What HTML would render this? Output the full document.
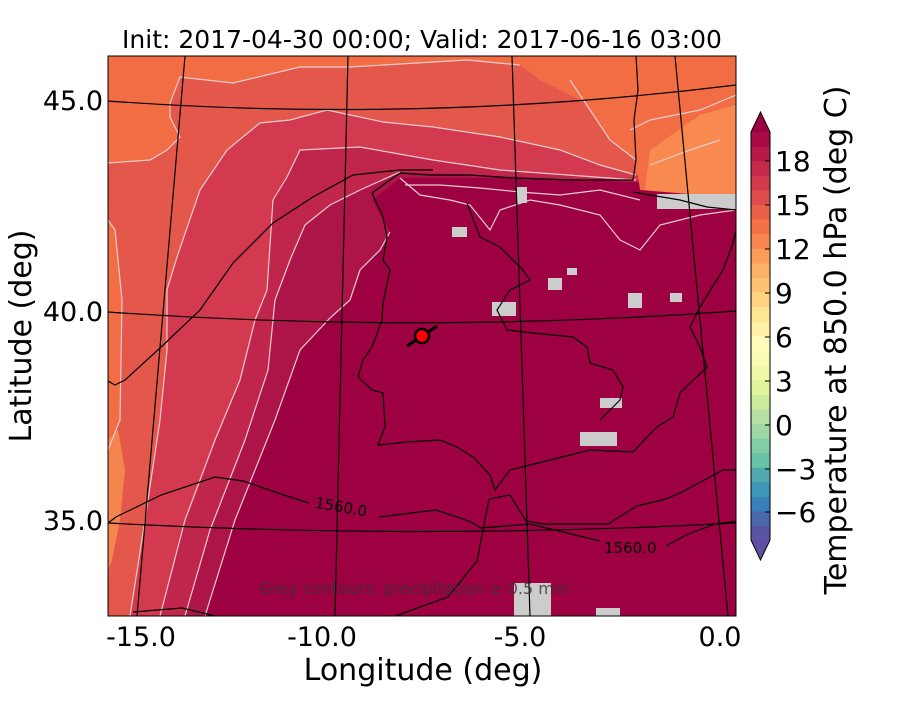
<!DOCTYPE html>
<html><head><meta charset="utf-8"><style>
body{margin:0;background:#fff;}
svg text{font-family:"DejaVu Sans","Liberation Sans",sans-serif;}
</style></head><body>
<svg width="900" height="700" viewBox="0 0 900 700" xmlns="http://www.w3.org/2000/svg">
<defs><clipPath id="c"><rect x="108" y="56" width="628" height="560"/></clipPath></defs>
<g clip-path="url(#c)">
<rect x="108" y="56" width="628" height="560" fill="#f26d43"/>
<polygon points="108,163 150,160 167,150 180,137 170,117 170,103 180,77 233,83 300,67 350,67 467,60 520,65 540,80 600,110 630,130 636,170 640,190 736,200 736,616 108,616 108,450 120,420 122,300 115,230 108,220" fill="#e4584b"/>
<polygon points="108,440 118,430 125,470 120,520 112,560 108,570" fill="#f6844f"/>
<polygon points="130,616 145,520 160,420 167,350 167,290 177,257 200,190 227,150 260,123 290,120 327,110 383,122 433,127 500,137 560,150 600,165 636,175 736,200 736,616" fill="#d3394f"/>
<polygon points="160,616 185,520 215,440 240,380 255,320 267,290 273,200 287,177 300,150 360,147 433,160 500,170 636,180 736,200 736,616" fill="#c0254b"/>
<polygon points="185,616 210,530 245,440 268,370 275,300 290,260 305,225 330,205 360,190 400,172 500,176 636,182 736,200 736,616" fill="#ad1549"/>
<polygon points="205,616 235,520 275,420 300,350 330,318 350,300 360,270 380,250 390,232 372,200 385,190 400,178 500,178 636,182 736,200 736,616" fill="#9e0142"/>
<polygon points="560,56 736,56 736,198 640,190 636,160 610,140 590,110 570,80" fill="#f26d43"/>
<polygon points="645,190 650,150 700,115 736,105 736,198" fill="#f8894f"/>
<g fill="none" stroke="#eccbd1" stroke-width="1.2">
<polyline points="108,163 150,160 167,150 180,137 170,117 170,103 180,77 233,83 300,67 350,67 467,60 520,65"/>
<polyline points="570,80 590,110 610,140 636,160"/>
<polyline points="108,220 115,230 122,300 120,420 108,450"/>
<polyline points="130,616 145,520 160,420 167,350 167,290 177,257 200,190 227,150 260,123 290,120 327,110 383,122 433,127 500,137 560,150 600,165 636,175"/>
<polyline points="160,616 185,520 215,440 240,380 255,320 267,290 273,200 287,177 300,150 360,147 433,160 500,170 636,180"/>
<polyline points="185,616 210,530 245,440 268,370 275,300 290,260 305,225 330,205 360,190 400,172"/>
<polyline points="205,616 235,520 275,420 300,350 330,318 350,300 360,270 380,250 390,232"/>
<polyline points="400,178 420,195 450,200 470,205 490,230 500,210 530,200 560,205 600,215 620,240 640,250 660,225 700,215 736,210"/>
<polyline points="405,185 440,185 480,188 520,192 560,195 600,190 640,200"/>
<polyline points="630,130 650,120 700,110 736,95"/>
<polyline points="650,165 690,150 720,140"/>
</g>
<g fill="#cccccc">
<rect x="657" y="194" width="80" height="15"/><rect x="517" y="187" width="10" height="16"/>
<rect x="452" y="227" width="15" height="10"/><rect x="492" y="302" width="24" height="14"/>
<rect x="548" y="278" width="14" height="12"/><rect x="567" y="268" width="10" height="7"/>
<rect x="628" y="293" width="14" height="15"/><rect x="670" y="293" width="12" height="9"/>
<rect x="600" y="398" width="22" height="10"/><rect x="580" y="432" width="37" height="14"/>
<rect x="514" y="583" width="37" height="36"/><rect x="596" y="608" width="24" height="10"/>
</g>
</g>
<g clip-path="url(#c)" fill="none" stroke="#000" stroke-width="1.2">
<path d="M108,101 Q422,124 736,85"/>
<path d="M108,312 Q422,334 736,311"/>
<path d="M108,523 Q422,540 736,523"/>
<path d="M185,56 L137,616"/><path d="M348,56 L335,616"/><path d="M512,56 L530,616"/><path d="M675,56 L728,616"/>
<path d="M108,381 L115,385 125,380 160,348 200,310 233,263 273,223 313,197 353,175 400,170 433,170"/>
<path d="M108,523 L116,517 161,495 215,477 243,481 284,495 309,503"/>
<path d="M379,517 L436,510 469,521 481,528 530,524 600,541"/>
<path d="M666,546 L686,535 715,524 739,521"/>
<path d="M372,193 L383,185 400,173 430,175 470,175 513,178 573,180 633,180 636,160 634,120 638,90 636,56"/>
<path d="M633,192 L650,195 680,200 707,207 736,210"/>
<path d="M372,193 L383,217 387,237 383,260 390,270 383,303 382,320 372,347 363,360 358,377 372,390 383,393 385,427 378,445 407,442 440,440 457,447 473,457 490,475 495,490 510,470 550,460 590,450 633,452 657,427 673,417 680,393 707,367 700,347 690,327 700,307 723,270 733,243 736,230"/>
<path d="M467,203 L480,237 500,247 523,270 530,280 510,290 497,310 507,330 533,333 573,337 587,347 590,363 613,370 623,387 620,400 600,420"/>
<path d="M489,499 L510,495 526,521 543,524 608,524 637,506 666,499 682,492 723,470 739,470"/>
<path d="M489,499 L477,561 448,597 387,619"/>
<path d="M133,612 L182,608 215,616"/>
</g>
<text x="314" y="512" font-size="15" transform="rotate(10 340 512)">1560.0</text>
<text x="604" y="553" font-size="15">1560.0</text>
<text x="260" y="594" font-size="16" fill="#333" opacity="0.8">Grey contours: precipitation ≥ 0.5 mm</text>
<line x1="407" y1="346" x2="437" y2="326" stroke="#000" stroke-width="3"/>
<circle cx="422" cy="336" r="7" fill="#f00" stroke="#000" stroke-width="2.5"/>
<rect x="108" y="56" width="628" height="560" fill="none" stroke="#000" stroke-width="1"/>
<text x="422" y="48" font-size="25" text-anchor="middle">Init: 2017-04-30 00:00; Valid: 2017-06-16 03:00</text>
<g font-size="27" text-anchor="end">
<text x="103" y="110">45.0</text><text x="103" y="321">40.0</text><text x="103" y="530">35.0</text>
</g>
<g font-size="27" text-anchor="middle">
<text x="141" y="646">-15.0</text><text x="322" y="646">-10.0</text><text x="520" y="646">-5.0</text><text x="720" y="646">0.0</text>
</g>
<text x="423" y="680" font-size="30" text-anchor="middle">Longitude (deg)</text>
<text transform="translate(31 336) rotate(-90)" font-size="30" text-anchor="middle">Latitude (deg)</text>
<g>
<polygon points="751,132 760.5,112 770,132" fill="#9e0142"/>
<polygon points="751,540 760.5,560 770,540" fill="#5e4fa2"/>
<rect x="751" y="132.0" width="19" height="15.1" fill="#a70a45"/>
<rect x="751" y="146.6" width="19" height="15.1" fill="#b71949"/>
<rect x="751" y="161.2" width="19" height="15.1" fill="#c52a4b"/>
<rect x="751" y="175.8" width="19" height="15.1" fill="#d3394d"/>
<rect x="751" y="190.4" width="19" height="15.1" fill="#df4c4b"/>
<rect x="751" y="205.0" width="19" height="15.1" fill="#ea5f47"/>
<rect x="751" y="219.6" width="19" height="15.1" fill="#f47245"/>
<rect x="751" y="234.2" width="19" height="15.1" fill="#f8874f"/>
<rect x="751" y="248.8" width="19" height="15.1" fill="#fb9c59"/>
<rect x="751" y="263.4" width="19" height="15.1" fill="#fdb164"/>
<rect x="751" y="278.0" width="19" height="15.1" fill="#fdc372"/>
<rect x="751" y="292.6" width="19" height="15.1" fill="#fed481"/>
<rect x="751" y="307.2" width="19" height="15.1" fill="#fee593"/>
<rect x="751" y="321.8" width="19" height="15.1" fill="#fff1a8"/>
<rect x="751" y="336.4" width="19" height="15.1" fill="#fffbbb"/>
<rect x="751" y="351.0" width="19" height="15.1" fill="#f9fcb4"/>
<rect x="751" y="365.6" width="19" height="15.1" fill="#eff8a6"/>
<rect x="751" y="380.2" width="19" height="15.1" fill="#e1f399"/>
<rect x="751" y="394.8" width="19" height="15.1" fill="#cdeb9d"/>
<rect x="751" y="409.4" width="19" height="15.1" fill="#b6e1a2"/>
<rect x="751" y="424.0" width="19" height="15.1" fill="#9ed8a4"/>
<rect x="751" y="438.6" width="19" height="15.1" fill="#82cda5"/>
<rect x="751" y="453.2" width="19" height="15.1" fill="#68c2a5"/>
<rect x="751" y="467.8" width="19" height="15.1" fill="#50a9af"/>
<rect x="751" y="482.4" width="19" height="15.1" fill="#3d95b8"/>
<rect x="751" y="497.0" width="19" height="15.1" fill="#3780b9"/>
<rect x="751" y="511.6" width="19" height="15.1" fill="#4a69ad"/>
<rect x="751" y="526.2" width="19" height="13.8" fill="#5b53a4"/>
<polygon points="751,132 760.5,112 770,132 770,540 760.5,560 751,540" fill="none" stroke="#000" stroke-width="1"/>
<g stroke="#000"><line x1="765" x2="770" y1="161" y2="161"/><line x1="765" x2="770" y1="205" y2="205"/><line x1="765" x2="770" y1="249" y2="249"/><line x1="765" x2="770" y1="293" y2="293"/><line x1="765" x2="770" y1="337" y2="337"/><line x1="765" x2="770" y1="381" y2="381"/><line x1="765" x2="770" y1="425" y2="425"/><line x1="765" x2="770" y1="469" y2="469"/><line x1="765" x2="770" y1="512" y2="512"/></g>
<g font-size="28">
<text x="775" y="171">18</text><text x="775" y="215">15</text><text x="775" y="259">12</text><text x="775" y="303">9</text><text x="775" y="347">6</text><text x="775" y="391">3</text><text x="775" y="435">0</text><text x="775" y="479">−3</text><text x="775" y="522">−6</text>
</g>
</g>
<text transform="translate(846 340) rotate(-90)" font-size="30" text-anchor="middle">Temperature at 850.0 hPa (deg C)</text>
</svg>
</body></html>
